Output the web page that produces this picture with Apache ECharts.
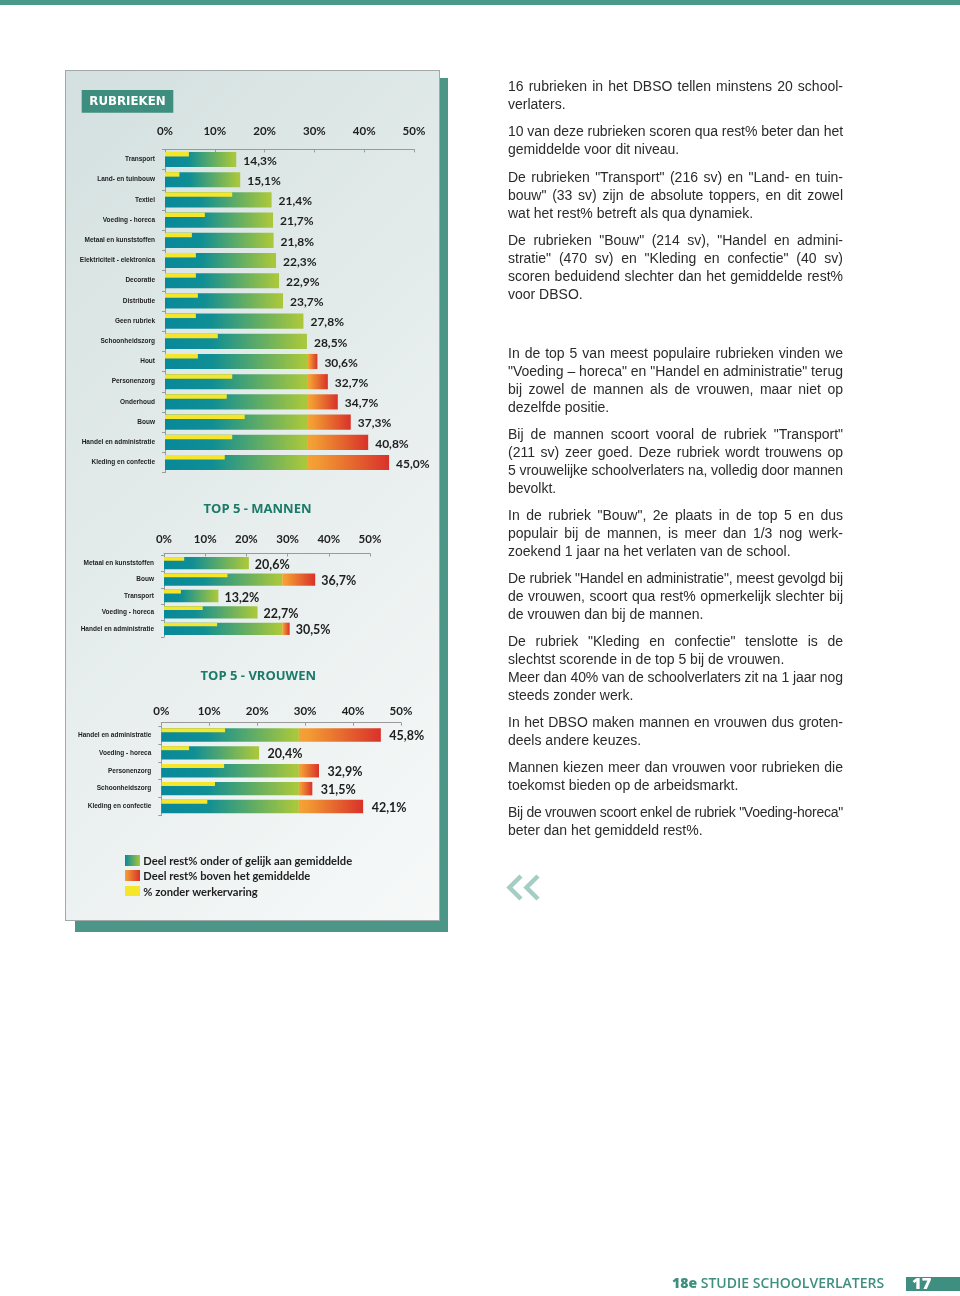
<!DOCTYPE html>
<html><head><meta charset="utf-8">
<script src="https://cdn.jsdelivr.net/npm/echarts@6/dist/echarts.min.js"></script>
<style>
html,body{margin:0;padding:0;background:#fff;}
#page{position:relative;width:960px;height:1296px;overflow:hidden;background:#fff;}
#stripe{position:absolute;left:0;top:0;width:960px;height:5px;background:#4a9a89;}
#shadow{position:absolute;left:75px;top:78px;width:373px;height:854px;background:#4b9686;}
#panel{position:absolute;left:65px;top:70px;width:373px;height:849px;border:1px solid #a3a9a8;
  background:linear-gradient(135deg,#d3e0df 0%,#e4eceb 45%,#f7f9f9 100%);}
#chart{position:absolute;left:0;top:0;width:960px;height:1296px;}
#text{position:absolute;left:508px;top:0;width:335px;font-family:'Liberation Sans',Arial,sans-serif;font-size:14px;line-height:18px;color:#2b2b2b;}
.p{position:absolute;left:0;width:335px;}
.l{white-space:nowrap;height:18px;}
#footer{position:absolute;left:672px;top:1274px;font-family:'Open Sans',sans-serif;font-size:14px;font-weight:600;color:#3e8f80;line-height:18px;}
#footer b{font-weight:800;}
#pagebox{position:absolute;left:906px;top:1277px;width:54px;height:14px;background:#3e8f80;}
#pagenum{position:absolute;left:912px;top:1273px;font-family:'Open Sans',sans-serif;font-size:16.5px;font-weight:800;color:#fff;line-height:20px;}
</style></head>
<body><div id="page">
<div id="stripe"></div>
<div id="shadow"></div>
<div id="panel"></div>
<div id="chart"></div>
<div id="text">
 <div class="p" style="top:77px">
  <div class="l j"><span>16 rubrieken in het DBSO tellen minstens 20 school-</span></div>
  <div class="l"><span>verlaters.</span></div>
 </div>
 <div class="p" style="top:122px">
  <div class="l j"><span>10 van deze rubrieken scoren qua rest% beter dan het</span></div>
  <div class="l"><span>gemiddelde voor dit niveau.</span></div>
 </div>
 <div class="p" style="top:168px">
  <div class="l j"><span>De rubrieken "Transport" (216 sv) en "Land- en tuin-</span></div>
  <div class="l j"><span>bouw" (33 sv) zijn de absolute toppers, en dit zowel</span></div>
  <div class="l"><span>wat het rest% betreft als qua dynamiek.</span></div>
 </div>
 <div class="p" style="top:231px">
  <div class="l j"><span>De rubrieken "Bouw" (214 sv), "Handel en admini-</span></div>
  <div class="l j"><span>stratie" (470 sv) en "Kleding en confectie" (40 sv)</span></div>
  <div class="l j"><span>scoren beduidend slechter dan het gemiddelde rest%</span></div>
  <div class="l"><span>voor DBSO.</span></div>
 </div>
 <div class="p" style="top:344px">
  <div class="l j"><span>In de top 5 van meest populaire rubrieken vinden we</span></div>
  <div class="l j"><span>"Voeding – horeca" en "Handel en administratie" terug</span></div>
  <div class="l j"><span>bij zowel de mannen als de vrouwen, maar niet op</span></div>
  <div class="l"><span>dezelfde positie.</span></div>
 </div>
 <div class="p" style="top:425px">
  <div class="l j"><span>Bij de mannen scoort vooral de rubriek "Transport"</span></div>
  <div class="l j"><span>(211 sv) zeer goed. Deze rubriek wordt trouwens op</span></div>
  <div class="l j"><span>5 vrouwelijke schoolverlaters na, volledig door mannen</span></div>
  <div class="l"><span>bevolkt.</span></div>
 </div>
 <div class="p" style="top:506px">
  <div class="l j"><span>In de rubriek "Bouw", 2e plaats in de top 5 en dus</span></div>
  <div class="l j"><span>populair bij de mannen, is meer dan 1/3 nog werk-</span></div>
  <div class="l"><span>zoekend 1 jaar na het verlaten van de school.</span></div>
 </div>
 <div class="p" style="top:569px">
  <div class="l j"><span>De rubriek "Handel en administratie", meest gevolgd bij</span></div>
  <div class="l j"><span>de vrouwen, scoort qua rest% opmerkelijk slechter bij</span></div>
  <div class="l"><span>de vrouwen dan bij de mannen.</span></div>
 </div>
 <div class="p" style="top:632px">
  <div class="l j"><span>De rubriek "Kleding en confectie" tenslotte is de</span></div>
  <div class="l"><span>slechtst scorende in de top 5 bij de vrouwen.</span></div>
  <div class="l j"><span>Meer dan 40% van de schoolverlaters zit na 1 jaar nog</span></div>
  <div class="l"><span>steeds zonder werk.</span></div>
 </div>
 <div class="p" style="top:713px">
  <div class="l j"><span>In het DBSO maken mannen en vrouwen dus groten-</span></div>
  <div class="l"><span>deels andere keuzes.</span></div>
 </div>
 <div class="p" style="top:758px">
  <div class="l j"><span>Mannen kiezen meer dan vrouwen voor rubrieken die</span></div>
  <div class="l"><span>toekomst bieden op de arbeidsmarkt.</span></div>
 </div>
 <div class="p" style="top:803px">
  <div class="l j"><span>Bij de vrouwen scoort enkel de rubriek "Voeding-horeca"</span></div>
  <div class="l"><span>beter dan het gemiddeld rest%.</span></div>
 </div>
</div>
<div id="footer"><b>18e</b> STUDIE SCHOOLVERLATERS</div>
<div id="pagebox"></div>
<div id="pagenum">17</div>
</div>
<script>
// ---------- DATA ----------
const mainCategories = ['Transport','Land- en tuinbouw','Textiel','Voeding - horeca','Metaal en kunststoffen','Elektriciteit - elektronica','Decoratie','Distributie','Geen rubriek','Schoonheidszorg','Hout','Personenzorg','Onderhoud','Bouw','Handel en administratie','Kleding en confectie'];
const mainRest = [14.3,15.1,21.4,21.7,21.8,22.3,22.9,23.7,27.8,28.5,30.6,32.7,34.7,37.3,40.8,45.0];
const mainNoExperience = [4.8,2.9,13.5,8.0,5.4,6.2,6.2,6.6,6.2,10.6,6.6,13.5,12.4,16.0,13.5,12.0];

const menCategories = ['Metaal en kunststoffen','Bouw','Transport','Voeding - horeca','Handel en administratie'];
const menRest = [20.6,36.7,13.2,22.7,30.5];
const menNoExperience = [4.9,15.4,4.1,9.4,12.9];

const womenCategories = ['Handel en administratie','Voeding - horeca','Personenzorg','Schoonheidszorg','Kleding en confectie'];
const womenRest = [45.8,20.4,32.9,31.5,42.1];
const womenNoExperience = [13.3,5.8,13.1,11.2,9.6];

const averageRest = 28.7;
const tickLabels = ['0%','10%','20%','30%','40%','50%'];
const legendLabels = ['Deel rest% onder of gelijk aan gemiddelde','Deel rest% boven het gemiddelde','% zonder werkervaring'];
const titles = ['RUBRIEKEN','TOP 5 - MANNEN','TOP 5 - VROUWEN'];

// ---------- justify right-hand text ----------
document.querySelectorAll('#text .l').forEach(function(el){
  const span = el.firstElementChild;
  const w = span.getBoundingClientRect().width;
  const txt = span.textContent;
  const target = 335;
  if (el.classList.contains('j')) {
    const diff = target - w;
    const spaces = (txt.match(/ /g) || []).length;
    if (diff >= 0 && spaces) span.style.wordSpacing = (diff / spaces) + 'px';
    else if (diff < 0) span.style.letterSpacing = (diff / (txt.length)) + 'px';
  } else if (w > target) {
    span.style.letterSpacing = ((target - w) / txt.length) + 'px';
  }
});

// ---------- CHART ----------
const TEAL = '#08899a', GREEN = '#a8c73c', ORANGE = '#f4a236', RED = '#d9322a', YELLOW = '#f5e62b';
const gradBelow = {type:'linear',x:0,y:0,x2:1,y2:0,colorStops:[{offset:0,color:TEAL},{offset:0.33,color:'#0f8e94'},{offset:0.97,color:GREEN},{offset:1,color:GREEN}]};
const gradAbove = {type:'linear',x:0,y:0,x2:1,y2:0,colorStops:[{offset:0,color:ORANGE},{offset:0.12,color:'#f29b33'},{offset:1,color:RED}]};
function pct(v){ return v.toFixed(1).replace('.', ',') + '%'; }

function barRenderer(labelGap, fontSize){
  return function(params, api){
    const v = api.value(0), cat = api.value(1), yv = api.value(2);
    const band = api.size([0,1])[1];
    const h = band * 0.75;
    const p0 = api.coord([0, cat]);
    const pA = api.coord([Math.min(v, averageRest), cat]);
    const pE = api.coord([v, cat]);
    const pY = api.coord([yv, cat]);
    const top = p0[1] - h/2;
    const children = [
      {type:'rect', shape:{x:p0[0], y:top, width:pA[0]-p0[0], height:h}, style:{fill:gradBelow}}
    ];
    if (v > averageRest) children.push({type:'rect', shape:{x:pA[0], y:top, width:pE[0]-pA[0], height:h}, style:{fill:gradAbove}});
    children.push({type:'rect', shape:{x:p0[0], y:top, width:pY[0]-p0[0], height:h*0.3}, style:{fill:YELLOW}});
    children.push({type:'text', style:{text:pct(v), x:pE[0]+labelGap, y:p0[1]+1.5, align:'left', verticalAlign:'middle',
      fontFamily:'Lato', fontWeight:'bold', fontSize:fontSize, fill:'#1e1e1e'}});
    return {type:'group', children:children};
  };
}

const gridDefs = [
  {left:165, top:149.4, width:249, height:323.2},
  {left:164, top:555, width:206, height:82},
  {left:161.3, top:726, width:239.7, height:89.5}
];
const axisOffsets = [0, 1.5, 3.3];
const labelMargins = [12.5, 8, 5];
const catSets = [mainCategories, menCategories, womenCategories];
const restSets = [mainRest, menRest, womenRest];
const noExpSets = [mainNoExperience, menNoExperience, womenNoExperience];
const labelGaps = [7, 6, 8.5];
const labelSizes = [12, 12.5, 12.5];
const AX = '#9a9a9a';

const option = {
  backgroundColor:'transparent',
  animation:false,
  grid: gridDefs.map(g => Object.assign({outerBoundsMode:'none', containLabel:false}, g)),
  xAxis: gridDefs.map((g,i) => ({
    gridIndex:i, type:'value', position:'top', min:0, max:50, interval:10, offset:axisOffsets[i],
    axisLine:{show:true, lineStyle:{color:AX, width:1}},
    axisTick:{show:true, inside:true, length:3, lineStyle:{color:AX}},
    splitLine:{show:false},
    axisLabel:{formatter:(v)=>tickLabels[Math.round(v/10)], color:'#1e1e1e', fontFamily:'Lato', fontWeight:'bold', fontSize:11.5, margin:labelMargins[i]}
  })),
  yAxis: gridDefs.map((g,i) => ({
    gridIndex:i, type:'category', data:catSets[i], inverse:true,
    axisLine:{show:true, lineStyle:{color:AX, width:1}},
    axisTick:{show:true, length:3, lineStyle:{color:AX}},
    splitLine:{show:false},
    axisLabel:{color:'#1e1e1e', fontFamily:'Liberation Sans', fontWeight:'bold', fontSize:6.5, margin:10}
  })),
  series: gridDefs.map((g,i) => ({
    type:'custom', xAxisIndex:i, yAxisIndex:i, clip:false,
    encode:{x:0, y:1},
    data: catSets[i].map((c,k) => [restSets[i][k], k, noExpSets[i][k]]),
    renderItem: barRenderer(labelGaps[i], labelSizes[i])
  })),
  graphic: [
    {type:'rect', shape:{x:81.7, y:90, width:91.6, height:22.7}, style:{fill:'#3d8e7e'}},
    {type:'text', x:127.5, y:101.8, style:{text:titles[0], align:'center', verticalAlign:'middle', fontFamily:'DejaVu Sans', fontWeight:'bold', fontSize:11.8, fill:'#ffffff'}},
    {type:'text', x:257.5, y:509, style:{text:titles[1], align:'center', verticalAlign:'middle', fontFamily:'Open Sans', fontWeight:'bold', fontSize:13, fill:'#1c7a69'}},
    {type:'text', x:258.3, y:676, style:{text:titles[2], align:'center', verticalAlign:'middle', fontFamily:'Open Sans', fontWeight:'bold', fontSize:13, fill:'#1c7a69'}},
    {type:'rect', shape:{x:125, y:855, width:15, height:11}, style:{fill:{type:'linear',x:0,y:0,x2:1,y2:0,colorStops:[{offset:0,color:TEAL},{offset:1,color:GREEN}]}}},
    {type:'rect', shape:{x:125, y:870, width:15, height:11}, style:{fill:{type:'linear',x:0,y:0,x2:1,y2:0,colorStops:[{offset:0,color:ORANGE},{offset:1,color:RED}]}}},
    {type:'rect', shape:{x:125, y:886, width:15, height:10}, style:{fill:YELLOW}},
    {type:'text', x:143.3, y:861, style:{text:legendLabels[0], verticalAlign:'middle', fontFamily:'Lato', fontWeight:'bold', fontSize:11.2, fill:'#1e1e1e'}},
    {type:'text', x:143.3, y:876.5, style:{text:legendLabels[1], verticalAlign:'middle', fontFamily:'Lato', fontWeight:'bold', fontSize:11.2, fill:'#1e1e1e'}},
    {type:'text', x:143.3, y:892, style:{text:legendLabels[2], verticalAlign:'middle', fontFamily:'Lato', fontWeight:'bold', fontSize:11.2, fill:'#1e1e1e'}},
    {type:'polyline', shape:{points:[[521,876],[509.5,887.5],[521,899]]}, style:{stroke:'#a6cdc3', lineWidth:4.5, fill:null}},
    {type:'polyline', shape:{points:[[538,876],[526.5,887.5],[538,899]]}, style:{stroke:'#a6cdc3', lineWidth:4.5, fill:null}}
  ]
};
const chart = echarts.init(document.getElementById('chart'), null, {renderer:'canvas'});
chart.setOption(option);
</script>
</body></html>
